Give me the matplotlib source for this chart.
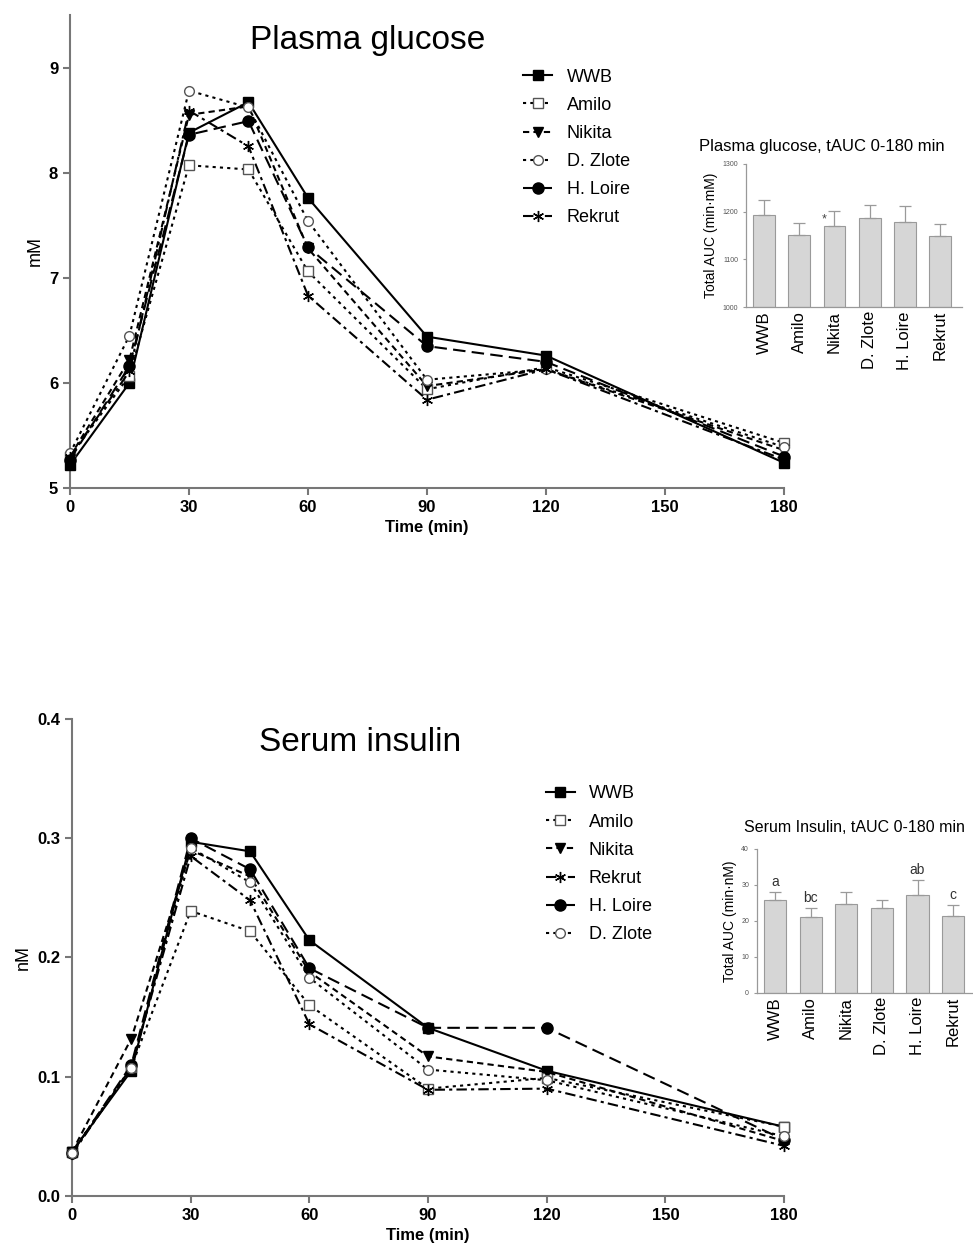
import matplotlib
matplotlib.use("Agg")
import matplotlib.pyplot as plt

plt.rcParams['font.family'] = ['Liberation Sans', 'DejaVu Sans']

# sampling times (min)
time_min = [0, 15, 30, 45, 60, 90, 120, 180]

# plasma glucose (mM)
glu_names = ['WWB', 'Amilo', 'Nikita', 'D. Zlote', 'H. Loire', 'Rekrut']
glu_wwb = [5.22, 6.00, 8.38, 8.67, 7.76, 6.44, 6.26, 5.24]
glu_amilo = [5.30, 6.07, 8.07, 8.03, 7.06, 5.94, 6.15, 5.43]
glu_nikita = [5.30, 6.22, 8.55, 8.63, 7.28, 5.97, 6.13, 5.36]
glu_zlote = [5.33, 6.45, 8.78, 8.62, 7.54, 6.03, 6.13, 5.39]
glu_loire = [5.27, 6.16, 8.36, 8.49, 7.29, 6.35, 6.20, 5.30]
glu_rekrut = [5.30, 6.11, 8.59, 8.25, 6.83, 5.84, 6.13, 5.27]

# serum insulin (nM)
ins_names = ['WWB', 'Amilo', 'Nikita', 'Rekrut', 'H. Loire', 'D. Zlote']
ins_wwb = [0.037, 0.105, 0.297, 0.289, 0.2145, 0.141, 0.105, 0.058]
ins_amilo = [0.037, 0.108, 0.239, 0.222, 0.160, 0.090, 0.099, 0.058]
ins_nikita = [0.037, 0.132, 0.290, 0.268, 0.188, 0.117, 0.104, 0.046]
ins_rekrut = [0.035, 0.108, 0.285, 0.248, 0.144, 0.089, 0.090, 0.042]
ins_loire = [0.036, 0.110, 0.300, 0.274, 0.191, 0.141, 0.141, 0.047]
ins_zlote = [0.036, 0.107, 0.292, 0.263, 0.183, 0.106, 0.097, 0.050]

# tAUC insets
auc_labels = ['WWB', 'Amilo', 'Nikita', 'D. Zlote', 'H. Loire', 'Rekrut']
glu_auc = [1193, 1150, 1170, 1186, 1179, 1148]
glu_auc_err = [32, 27, 32, 27, 32, 26]
ins_auc = [25.8, 21.2, 24.7, 23.5, 27.1, 21.3]
ins_auc_err = [2.3, 2.3, 3.2, 2.2, 4.3, 3.2]
ins_auc_letters = ['a', 'bc', '', '', 'ab', 'c']

# line styles per cultivar
styles = {
    'WWB':      dict(ls='-', marker='s', mfc='black', mec='black', ms=7),
    'Amilo':    dict(ls=(0, (1.5, 2)), marker='s', mfc='white', mec='#555555', ms=7),
    'Nikita':   dict(ls=(0, (3, 2)), marker='v', mfc='black', mec='black', ms=7),
    'D. Zlote': dict(ls=(0, (1.5, 2)), marker='o', mfc='white', mec='#555555', ms=7),
    'H. Loire': dict(ls=(0, (6, 3)), marker='o', mfc='black', mec='black', ms=8),
    'Rekrut':   dict(ls=(0, (5, 2, 1.5, 2)), marker=(6, 2, 0), mfc='black', mec='black', ms=8),
}

spine_col = '#777777'


def style_axis(ax):
    for s in ['top', 'right']:
        ax.spines[s].set_visible(False)
    for s in ['left', 'bottom']:
        ax.spines[s].set_color(spine_col)
        ax.spines[s].set_linewidth(1.5)
    ax.tick_params(colors=spine_col, width=1.5, length=5, labelcolor='black')
    for lab in ax.get_xticklabels() + ax.get_yticklabels():
        lab.set_fontweight('bold')
        lab.set_fontsize(12)


def draw_main(ax, names, series, title, ylabel, ylim, yticks, fmt, title_pos, legend_anchor):
    for name, vals in zip(names, series):
        st = styles[name]
        ax.plot(time_min, vals, color='black', lw=1.5, ls=st['ls'], marker=st['marker'],
                ms=st['ms'], mfc=st['mfc'], mec=st['mec'], mew=1, label=name,
                clip_on=False, zorder=3)
    ax.set_xlim(0, 180)
    ax.set_ylim(*ylim)
    ax.set_xticks([0, 30, 60, 90, 120, 150, 180])
    ax.set_yticks(yticks)
    ax.set_yticklabels([fmt.format(v) for v in yticks])
    style_axis(ax)
    ax.set_xlabel('Time (min)', fontsize=12, fontweight='bold')
    ax.set_ylabel(ylabel, fontsize=13)
    ax.text(title_pos[0], title_pos[1], title, transform=ax.transAxes, fontsize=24,
            ha='center', va='center')
    leg = ax.legend(loc='upper left', bbox_to_anchor=legend_anchor, frameon=False,
                    fontsize=13, handlelength=1.6, handletextpad=0.8,
                    labelspacing=0.62, borderaxespad=0)
    return leg


def draw_inset(ax, vals, errs, title, ylabel, ylim, yticks):
    x = list(range(len(auc_labels)))
    ax.bar(x, [v - ylim[0] for v in vals], bottom=ylim[0], width=0.62,
           color='#d6d6d6', edgecolor='#9a9a9a', lw=0.8)
    ax.errorbar(x, vals, yerr=[[0] * len(errs), errs], fmt='none', ecolor='#9a9a9a',
                elinewidth=0.9, capsize=4, capthick=0.9)
    ax.set_xlim(-0.52, len(auc_labels) - 0.38)
    ax.set_ylim(*ylim)
    ax.set_yticks(yticks)
    ax.set_xticks(x)
    ax.set_xticklabels(auc_labels, rotation=90, fontsize=12)
    for s in ['top', 'right']:
        ax.spines[s].set_visible(False)
    for s in ['left', 'bottom']:
        ax.spines[s].set_color('#999999')
        ax.spines[s].set_linewidth(0.9)
    ax.tick_params(axis='y', labelsize=5, colors='#999999', labelcolor='#555555', length=2)
    ax.tick_params(axis='x', length=0, pad=3)
    ax.set_ylabel(ylabel, fontsize=10, labelpad=3)


fig = plt.figure(figsize=(9.73, 12.45), dpi=100)

# plasma glucose
ax1 = fig.add_axes([0.0719, 0.608, 0.7339, 0.380])
draw_main(ax1, glu_names,
          [glu_wwb, glu_amilo, glu_nikita, glu_zlote, glu_loire, glu_rekrut],
          'Plasma glucose', 'mM', (5, 9.5), [5, 6, 7, 8, 9], '{:.0f}',
          (0.417, 0.946), (0.625, 0.902))

ins1 = fig.add_axes([0.7664, 0.7534, 0.2223, 0.1149])
draw_inset(ins1, glu_auc, glu_auc_err, 'Plasma glucose, tAUC 0-180 min',
           'Total AUC (min\u00b7mM)', (1000, 1300), [1000, 1100, 1200, 1300])
fig.text(699 / 973, 1 - 147 / 1245, 'Plasma glucose, tAUC 0-180 min', fontsize=12,
         ha='left', va='center')
ins1.text(1.72, glu_auc[2] + 2, '*', ha='center', va='bottom', fontsize=9, color='#444444')

# serum insulin
ax2 = fig.add_axes([0.074, 0.0394, 0.7318, 0.3831])
draw_main(ax2, ins_names,
          [ins_wwb, ins_amilo, ins_nikita, ins_rekrut, ins_loire, ins_zlote],
          'Serum insulin', 'nM', (0, 0.4), [0.0, 0.1, 0.2, 0.3, 0.4], '{:.1f}',
          (0.405, 0.951), (0.655, 0.876))

ins2 = fig.add_axes([0.7777, 0.2026, 0.2245, 0.1155])
draw_inset(ins2, ins_auc, ins_auc_err, 'Serum Insulin, tAUC 0-180 min',
           'Total AUC (min\u00b7nM)', (0, 40), [0, 10, 20, 30, 40])
fig.text(744 / 973, 1 - 828 / 1245, 'Serum Insulin, tAUC 0-180 min', fontsize=11.5,
         ha='left', va='center')
for i, (v, e, t) in enumerate(zip(ins_auc, ins_auc_err, ins_auc_letters)):
    if t:
        ins2.text(i, v + e + 0.8, t, ha='center', va='bottom', fontsize=10, color='#333333')

fig.savefig('out.png', dpi=100)
